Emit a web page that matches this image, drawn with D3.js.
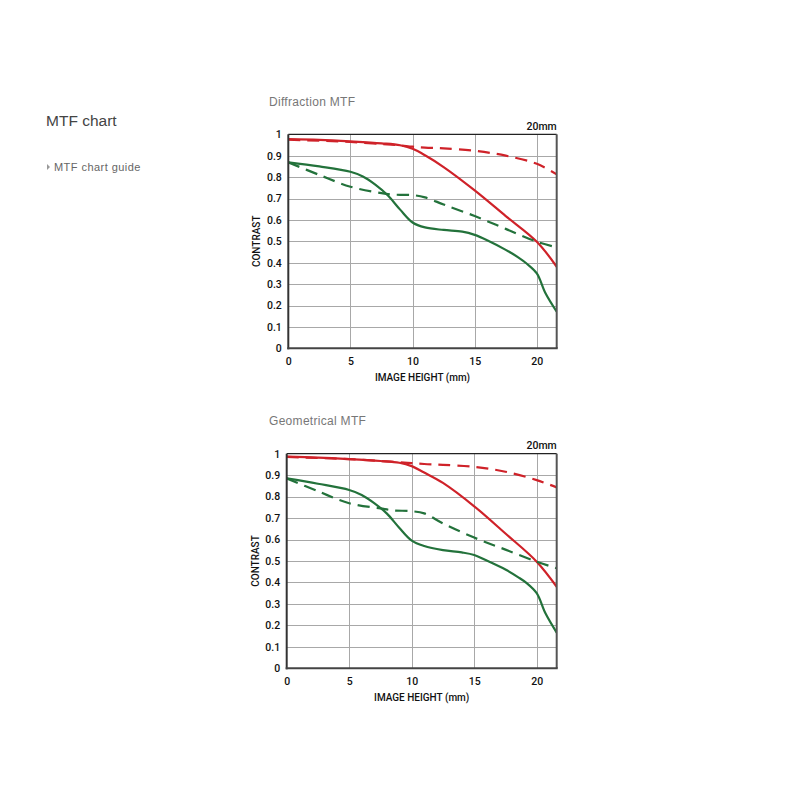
<!DOCTYPE html>
<html>
<head>
<meta charset="utf-8">
<script src="https://cdn.jsdelivr.net/npm/d3@7"></script>
<style>
  html, body { margin: 0; padding: 0; background: #fff; }
  svg { display: block; }
</style>
</head>
<body>
<svg id="chart" width="803" height="803"></svg>
<script>
// ---------------- data ----------------
const xTicks = [0, 5, 10, 15, 20];
const yTicks = [0, 0.1, 0.2, 0.3, 0.4, 0.5, 0.6, 0.7, 0.8, 0.9, 1];
const yTickLabels = ["0", "0.1", "0.2", "0.3", "0.4", "0.5", "0.6", "0.7", "0.8", "0.9", "1"];
const xMax = 21.6;

const chartTitles = ["Diffraction MTF", "Geometrical MTF"];
const focalLabel = "20mm";
const xAxisTitle = "IMAGE HEIGHT (mm)";
const yAxisTitle = "CONTRAST";

// image heights at which values were read
const hRed = [0, 2.5, 5, 7.5, 9, 10, 11, 12.5, 15, 17.5, 20, 21.6];
const hGreenSolid = [0, 2.5, 5, 6, 7, 8, 9, 10, 11, 12.5, 14, 15, 16, 17.5, 18.5, 19.2, 20, 20.7, 21.6];
const hGreenDashed = [0, 2.5, 5, 7.5, 8.5, 10, 11, 12.5, 15, 17.5, 20, 21.6];

// Diffraction MTF
const diffRedSolid   = [0.977, 0.974, 0.967, 0.958, 0.949, 0.932, 0.902, 0.847, 0.738, 0.618, 0.498, 0.381];
const diffRedDashed  = [0.975, 0.970, 0.964, 0.955, 0.948, 0.942, 0.938, 0.934, 0.923, 0.900, 0.862, 0.813];
const diffGreenSolid = [0.869, 0.850, 0.825, 0.803, 0.765, 0.715, 0.648, 0.588, 0.565, 0.553, 0.545, 0.530, 0.505, 0.460, 0.425, 0.395, 0.350, 0.257, 0.171];
const diffGreenDashed = [0.869, 0.810, 0.755, 0.725, 0.718, 0.716, 0.705, 0.672, 0.618, 0.558, 0.498, 0.472];

// Geometrical MTF
const geoRedSolid   = [0.986, 0.982, 0.975, 0.966, 0.958, 0.942, 0.912, 0.864, 0.755, 0.628, 0.497, 0.380];
const geoRedDashed  = [0.985, 0.980, 0.975, 0.966, 0.960, 0.956, 0.952, 0.948, 0.939, 0.916, 0.877, 0.843];
const geoGreenSolid = [0.885, 0.860, 0.831, 0.808, 0.770, 0.722, 0.655, 0.595, 0.570, 0.551, 0.540, 0.528, 0.502, 0.460, 0.425, 0.397, 0.350, 0.256, 0.166];
const geoGreenDashed = [0.885, 0.825, 0.769, 0.745, 0.736, 0.732, 0.722, 0.675, 0.609, 0.553, 0.497, 0.466];

// ---------------- drawing ----------------
const RED = "#cf2229";
const GREEN = "#23723b";
const svg = d3.select("#chart");

// left navigation text
svg.append("text").attr("x", 46).attr("y", 126)
  .attr("font-family", "Liberation Sans, Arial, sans-serif").attr("font-size", 15.5)
  .attr("fill", "#444").text("MTF chart");
svg.append("path").attr("d", "M47,164 L50,167 L47,170 Z").attr("fill", "#999");
svg.append("text").attr("x", 54).attr("y", 171)
  .attr("font-family", "Liberation Sans, Arial, sans-serif").attr("font-size", 11)
  .attr("letter-spacing", 0.45).attr("fill", "#666").text("MTF chart guide");

const charts = [
  { title: chartTitles[0], box: { left: 288.3, top: 134.3, right: 556.7, bottom: 348.3 },
    series: [
      { h: hRed, v: diffRedDashed, color: RED, dash: "12,7" },
      { h: hRed, v: diffRedSolid, color: RED, dash: null },
      { h: hGreenDashed, v: diffGreenDashed, color: GREEN, dash: "12,7" },
      { h: hGreenSolid, v: diffGreenSolid, color: GREEN, dash: null }
    ] },
  { title: chartTitles[1], box: { left: 286.7, top: 453.7, right: 556.7, bottom: 668.3 },
    series: [
      { h: hRed, v: geoRedDashed, color: RED, dash: "12,7" },
      { h: hRed, v: geoRedSolid, color: RED, dash: null },
      { h: hGreenDashed, v: geoGreenDashed, color: GREEN, dash: "12,7" },
      { h: hGreenSolid, v: geoGreenSolid, color: GREEN, dash: null }
    ] }
];

const FONT = "Roboto, sans-serif";

charts.forEach(c => {
  const b = c.box;
  const x = d3.scaleLinear().domain([0, xMax]).range([b.left, b.right]);
  const y = d3.scaleLinear().domain([0, 1]).range([b.bottom, b.top]);
  const g = svg.append("g");

  // title
  g.append("text").attr("x", 269).attr("y", b.top - 28.5)
    .attr("font-family", "Liberation Sans, Arial, sans-serif").attr("font-size", 12)
    .attr("letter-spacing", 0.3).attr("fill", "#777").text(c.title);

  // focal label
  g.append("text").attr("x", b.right).attr("y", b.top - 4.3)
    .attr("text-anchor", "end").attr("font-family", FONT).attr("font-size", 10.5)
    .attr("font-weight", 500).attr("fill", "#111").text(focalLabel);

  // grid
  const grid = g.append("g").attr("stroke", "#a8a8a8").attr("stroke-width", 1);
  grid.selectAll("line.h").data(yTicks.filter(t => t > 0 && t < 1)).join("line")
    .attr("x1", b.left).attr("x2", b.right)
    .attr("y1", d => Math.round(y(d)) + 0.5).attr("y2", d => Math.round(y(d)) + 0.5);
  grid.selectAll("line.v").data(xTicks.filter(t => t > 0)).join("line")
    .attr("y1", b.top).attr("y2", b.bottom)
    .attr("x1", d => Math.round(x(d)) + 0.5).attr("x2", d => Math.round(x(d)) + 0.5);

  // series
  const line = d3.line().x(d => x(d[0])).y(d => y(d[1])).curve(d3.curveCatmullRom.alpha(0.5));
  const clipId = "clip" + Math.round(b.top);
  svg.append("clipPath").attr("id", clipId).append("rect")
    .attr("x", b.left).attr("y", b.top - 2).attr("width", b.right - b.left).attr("height", b.bottom - b.top + 2);
  const lines = g.append("g").attr("clip-path", `url(#${clipId})`);
  c.series.forEach(s => {
    lines.append("path")
      .datum(s.h.map((h, i) => [h, s.v[i]]))
      .attr("fill", "none").attr("stroke", s.color).attr("stroke-width", 2.2)
      .attr("stroke-dasharray", s.dash).attr("d", line);
  });

  // frame
  g.append("line").attr("x1", b.left).attr("x2", b.right).attr("y1", b.top).attr("y2", b.top)
    .attr("stroke", "#222").attr("stroke-width", 1.2);
  g.append("line").attr("x1", b.right).attr("x2", b.right).attr("y1", b.top).attr("y2", b.bottom)
    .attr("stroke", "#555").attr("stroke-width", 2);
  g.append("line").attr("x1", b.left).attr("x2", b.left).attr("y1", b.top).attr("y2", b.bottom + 1)
    .attr("stroke", "#333").attr("stroke-width", 2);
  g.append("line").attr("x1", b.left - 1).attr("x2", b.right + 1).attr("y1", b.bottom).attr("y2", b.bottom)
    .attr("stroke", "#444").attr("stroke-width", 2);

  // y ticks labels
  const yAxis = d3.axisLeft(y).tickValues(yTicks).tickSize(0).tickPadding(6.5)
    .tickFormat((d, i) => yTickLabels[i]);
  const ya = g.append("g").attr("transform", `translate(${b.left},0)`).call(yAxis);
  ya.select(".domain").remove();
  ya.selectAll("text").attr("font-family", FONT).attr("font-size", 10.5).attr("fill", "#111").attr("font-weight", 500);

  // x ticks labels
  const xAxis = d3.axisBottom(x).tickValues(xTicks).tickSize(0).tickPadding(9).tickFormat(d3.format("d"));
  const xa = g.append("g").attr("transform", `translate(0,${b.bottom})`).call(xAxis);
  xa.select(".domain").remove();
  xa.selectAll("text").attr("font-family", FONT).attr("font-size", 10.5).attr("fill", "#111").attr("font-weight", 500);

  // axis titles
  g.append("text").attr("x", (b.left + b.right) / 2).attr("y", b.bottom + 32.5)
    .attr("text-anchor", "middle").attr("font-family", FONT).attr("font-size", 10)
    .attr("fill", "#111").attr("font-weight", 500).text(xAxisTitle);
  g.append("text").attr("transform", `translate(${b.left - 28},${(b.top + b.bottom) / 2}) rotate(-90)`)
    .attr("text-anchor", "middle").attr("font-family", FONT).attr("font-size", 10)
    .attr("fill", "#111").attr("font-weight", 500).text(yAxisTitle);
});
</script>
</body>
</html>
